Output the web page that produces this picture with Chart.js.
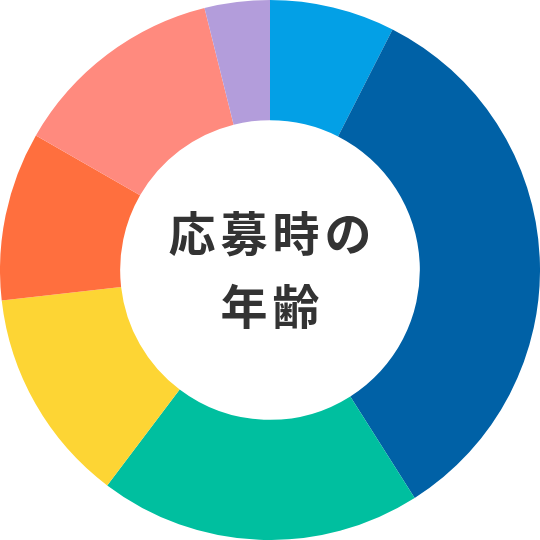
<!DOCTYPE html>
<html lang="ja">
<head>
<meta charset="utf-8">
<title>応募時の年齢</title>
<script src="https://cdn.jsdelivr.net/npm/chart.js@4"></script>
<style>
    html, body { margin: 0; padding: 0; background: #fff; }
    #wrap { width: 540px; height: 540px; }
</style>
</head>
<body>
<div id="wrap"><canvas id="ageChart"></canvas></div>
<script>
// 応募時の年齢 (share, %), clockwise from 12 o'clock
const ageGroups = ['グループ1', 'グループ2', 'グループ3', 'グループ4', 'グループ5', 'グループ6', 'グループ7'];
const ageShares = [7.5, 33.5, 19.3, 12.9, 10.1, 12.8, 3.9];
const segmentColors = ['#03A0E6', '#0061A6', '#00BF9F', '#FDD534', '#FF6F3E', '#FF8A7E', '#B39DDB'];
const centerLines = ['応募時の', '年齢'];

const centerLabel = {
    id: 'centerLabel',
    afterDraw(chart) {
        const ctx = chart.ctx;
        const meta = chart.getDatasetMeta(0);
        if (!meta.data.length) {
            return;
        }
        const cx = meta.data[0].x;
        const cy = meta.data[0].y;
        const spacing = 5;

        ctx.save();
        ctx.fillStyle = '#333333';
        ctx.font = 'bold 47px "Noto Sans CJK JP", sans-serif';
        ctx.textBaseline = 'middle';
        ctx.textAlign = 'left';

        const lineYs = [cy - 37, cy + 36];
        centerLines.forEach((line, i) => {
            const chars = Array.from(line);
            const widths = chars.map((ch) => ctx.measureText(ch).width);
            const total = widths.reduce((a, b) => a + b, 0) + spacing * (chars.length - 1);
            let x = cx - total / 2;
            chars.forEach((ch, j) => {
                ctx.fillText(ch, x, lineYs[i]);
                x += widths[j] + spacing;
            });
        });
        ctx.restore();
    },
};

new Chart(document.getElementById('ageChart'), {
    type: 'doughnut',
    data: {
        labels: ageGroups,
        datasets: [
            {
                data: ageShares,
                backgroundColor: segmentColors,
                borderWidth: 0,
                hoverOffset: 0,
            },
        ],
    },
    options: {
        responsive: true,
        maintainAspectRatio: false,
        animation: false,
        cutout: '55.5%',
        layout: { padding: 0 },
        plugins: {
            legend: { display: false },
            tooltip: { enabled: false },
        },
    },
    plugins: [centerLabel],
});
</script>
</body>
</html>
